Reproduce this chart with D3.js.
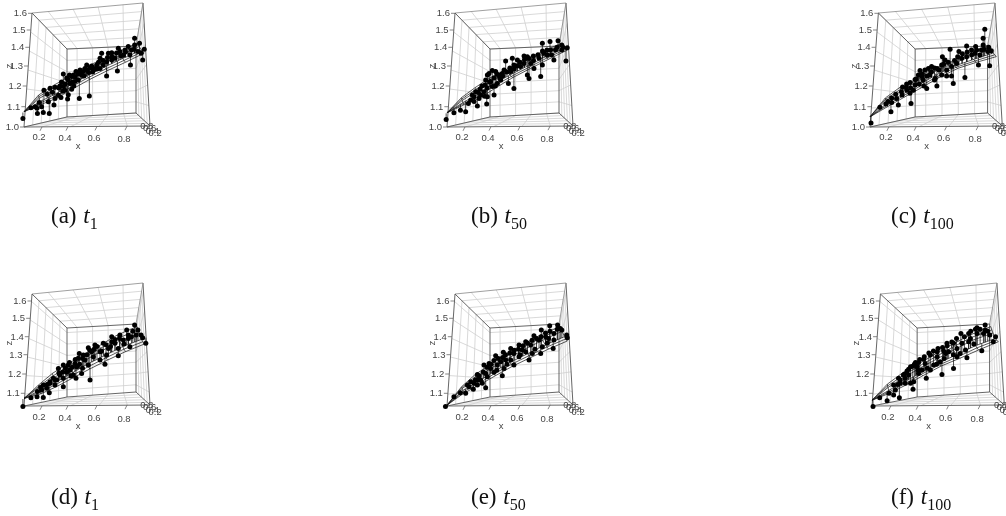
<!DOCTYPE html>
<html>
<head>
<meta charset="utf-8">
<style>
  body { margin: 0; background: #fff; }
  svg { filter: blur(0.35px); }
  text { font-family: "Liberation Sans", Arial, sans-serif; font-size: 9.5px; fill: #444; }
  .caption, .caption tspan { font-family: "Liberation Serif", serif; font-size: 23px; fill: #111; }
  .caption tspan.sub { font-size: 16px; }
</style>
<script src="https://cdnjs.cloudflare.com/ajax/libs/d3/7.8.5/d3.min.js"></script>
</head>
<body>
<div id="chart"></div>
<script>
// tick labels
var xTicks = [0.2, 0.4, 0.6, 0.8],
    yTicks = [0.8, 0.6, 0.4, 0.2],
    zTicksTop = [1.0, 1.1, 1.2, 1.3, 1.4, 1.5, 1.6],
    zTicksBottom = [1.1, 1.2, 1.3, 1.4, 1.5, 1.6];

// fitted surface, x of the grid nodes for each of the six wires
var surfaceX = [
  [.07, .19, .31, .43, .55, .67, .79, .92],
  [.07, .187, .305, .42, .54, .66, .78, .91],
  [.07, .185, .30, .415, .53, .65, .77, .90],
  [.07, .18, .29, .40, .515, .63, .75, .885],
  [.07, .177, .285, .395, .507, .622, .742, .877],
  [.07, .175, .28, .39, .50, .615, .735, .87]
];

// fitted surface z, read for each panel
var surfaceA = [
  [1.075, 1.11, 1.14, 1.185, 1.233, 1.277, 1.32, 1.369],
  [1.075, 1.118, 1.15, 1.195, 1.242, 1.286, 1.33, 1.377],
  [1.075, 1.125, 1.16, 1.205, 1.25, 1.295, 1.34, 1.385],
  [1.075, 1.14, 1.18, 1.225, 1.27, 1.31, 1.355, 1.405],
  [1.075, 1.148, 1.19, 1.232, 1.279, 1.319, 1.364, 1.414],
  [1.075, 1.156, 1.2, 1.24, 1.288, 1.328, 1.373, 1.423]
];
var surfaceB = [
  [1.07, 1.108, 1.14, 1.19, 1.242, 1.288, 1.336, 1.385],
  [1.07, 1.114, 1.15, 1.2, 1.248, 1.294, 1.343, 1.39],
  [1.07, 1.12, 1.16, 1.21, 1.255, 1.3, 1.35, 1.395],
  [1.07, 1.13, 1.175, 1.225, 1.27, 1.315, 1.36, 1.41],
  [1.07, 1.137, 1.184, 1.232, 1.275, 1.321, 1.365, 1.415],
  [1.07, 1.144, 1.193, 1.24, 1.28, 1.328, 1.371, 1.42]
];
var surfaceC = [
  [1.05, 1.10, 1.145, 1.19, 1.242, 1.288, 1.32, 1.35],
  [1.05, 1.107, 1.152, 1.197, 1.248, 1.294, 1.327, 1.36],
  [1.05, 1.115, 1.16, 1.205, 1.255, 1.30, 1.335, 1.37],
  [1.05, 1.13, 1.175, 1.22, 1.27, 1.31, 1.35, 1.39],
  [1.05, 1.136, 1.184, 1.225, 1.276, 1.314, 1.359, 1.40],
  [1.05, 1.142, 1.193, 1.23, 1.283, 1.318, 1.368, 1.413]
];
var surfaceD = [
  [1.074, 1.097, 1.134, 1.178, 1.226, 1.272, 1.317, 1.359],
  [1.074, 1.106, 1.145, 1.189, 1.238, 1.284, 1.331, 1.372],
  [1.074, 1.115, 1.155, 1.2, 1.25, 1.295, 1.345, 1.385],
  [1.074, 1.13, 1.18, 1.225, 1.27, 1.32, 1.375, 1.42],
  [1.074, 1.136, 1.19, 1.237, 1.282, 1.335, 1.392, 1.437],
  [1.074, 1.143, 1.203, 1.25, 1.295, 1.35, 1.409, 1.455]
];
var surfaceE = [
  [1.04, 1.10, 1.143, 1.191, 1.241, 1.285, 1.331, 1.376],
  [1.04, 1.107, 1.151, 1.2, 1.25, 1.295, 1.343, 1.388],
  [1.04, 1.115, 1.16, 1.21, 1.26, 1.305, 1.355, 1.40],
  [1.04, 1.125, 1.18, 1.23, 1.28, 1.33, 1.38, 1.43],
  [1.04, 1.13, 1.189, 1.238, 1.291, 1.342, 1.395, 1.442],
  [1.04, 1.134, 1.198, 1.247, 1.302, 1.354, 1.409, 1.455]
];
var surfaceF = [
  [1.065, 1.10, 1.143, 1.191, 1.241, 1.281, 1.326, 1.372],
  [1.065, 1.107, 1.151, 1.198, 1.248, 1.29, 1.338, 1.381],
  [1.065, 1.115, 1.16, 1.205, 1.255, 1.30, 1.35, 1.39],
  [1.065, 1.13, 1.18, 1.225, 1.275, 1.325, 1.38, 1.42],
  [1.065, 1.138, 1.19, 1.236, 1.286, 1.34, 1.395, 1.437],
  [1.065, 1.147, 1.203, 1.247, 1.298, 1.354, 1.409, 1.455]
];

// observed points [x, z]
var pointsA = [[.062,1.042],[.12,1.095],[.164,1.092],[.167,1.067],[.21,1.072],[.256,1.067],[.292,1.108],[.215,1.18],[.262,1.189],[.30,1.194],[.338,1.20],[.249,1.124],[.197,1.10],[.30,1.14],[.346,1.145],[.397,1.137],[.364,1.26],[.402,1.23],[.425,1.247],[.455,1.272],[.483,1.28],[.478,1.14],[.547,1.152],[.377,1.18],[.414,1.213],[.448,1.222],[.494,1.255],[.529,1.305],[.563,1.30],[.598,1.305],[.631,1.368],[.676,1.368],[.698,1.371],[.664,1.323],[.698,1.332],[.742,1.395],[.753,1.377],[.809,1.404],[.853,1.452],[.853,1.413],[.887,1.423],[.92,1.389],[.909,1.332],[.824,1.305],[.736,1.275],[.664,1.25],[.62,1.288],[.542,1.267],[.506,1.272],[.471,1.23],[.364,1.197],[.326,1.155],[.425,1.184],[.575,1.28],[.642,1.305],[.72,1.341],[.776,1.359],[.831,1.385],[.876,1.377],[.898,1.368],[.787,1.386],[.62,1.341],[.586,1.288],[.517,1.288],[.437,1.255],[.402,1.158],
  [.33,1.19],[.35,1.22],[.38,1.21],[.39,1.24],[.41,1.255],[.43,1.22],[.45,1.245],[.47,1.26],[.49,1.265],[.51,1.25],[.53,1.28],[.55,1.29],[.57,1.27],[.60,1.285],[.61,1.32],[.64,1.33],[.67,1.345],[.70,1.35],[.73,1.37],[.76,1.355],[.79,1.375],[.82,1.36],[.85,1.39],[.44,1.20],[.36,1.175],[.24,1.16],[.28,1.17],[.18,1.12],[.15,1.10]];
var pointsB = [[.064,1.037],[.12,1.07],[.167,1.083],[.205,1.075],[.226,1.116],[.295,1.103],[.367,1.113],[.269,1.148],[.315,1.184],[.354,1.205],[.385,1.263],[.409,1.277],[.432,1.272],[.372,1.255],[.397,1.222],[.455,1.255],[.49,1.28],[.501,1.327],[.547,1.341],[.582,1.332],[.627,1.354],[.649,1.35],[.689,1.354],[.749,1.423],[.80,1.433],[.856,1.438],[.882,1.413],[.92,1.398],[.911,1.327],[.827,1.332],[.749,1.305],[.738,1.247],[.66,1.238],[.649,1.255],[.558,1.188],[.467,1.23],[.421,1.156],[.32,1.156],[.244,1.132],[.282,1.172],[.346,1.172],[.372,1.148],[.536,1.272],[.604,1.297],[.671,1.314],[.727,1.341],[.782,1.359],[.838,1.385],[.882,1.385],[.804,1.385],[.76,1.368],[.558,1.305],[.444,1.213],[.409,1.197],[.359,1.23],[.478,1.263],[.627,1.314],[.693,1.288],[.52,1.213],[.308,1.14],[.256,1.156],
  [.30,1.17],[.33,1.20],[.37,1.19],[.39,1.22],[.42,1.24],[.44,1.26],[.46,1.24],[.48,1.25],[.51,1.27],[.53,1.29],[.56,1.285],[.58,1.30],[.60,1.32],[.63,1.335],[.66,1.34],[.69,1.33],[.72,1.36],[.75,1.38],[.78,1.385],[.81,1.36],[.85,1.40],[.89,1.40],[.43,1.20],[.35,1.15],[.27,1.125]];
var pointsC = [[.077,1.02],[.138,1.097],[.179,1.113],[.22,1.142],[.215,1.075],[.269,1.108],[.362,1.116],[.328,1.193],[.356,1.217],[.392,1.233],[.425,1.277],[.457,1.28],[.501,1.297],[.536,1.288],[.572,1.35],[.622,1.389],[.678,1.377],[.727,1.408],[.784,1.404],[.833,1.413],[.844,1.504],[.833,1.452],[.887,1.382],[.876,1.302],[.802,1.305],[.716,1.243],[.642,1.213],[.631,1.25],[.536,1.20],[.469,1.188],[.414,1.255],[.379,1.18],[.297,1.156],[.256,1.14],[.292,1.172],[.446,1.23],[.49,1.255],[.567,1.305],[.60,1.28],[.664,1.314],[.727,1.35],[.78,1.368],[.822,1.386],[.864,1.377],[.589,1.332],[.392,1.205],[.331,1.18],[.525,1.238],[.631,1.297],[.696,1.341],[.758,1.386],[.811,1.359],[.194,1.125],[.354,1.165],[.48,1.288],[.567,1.255],[.437,1.247],
  [.30,1.195],[.33,1.21],[.36,1.19],[.40,1.235],[.42,1.21],[.44,1.26],[.47,1.25],[.50,1.27],[.52,1.29],[.55,1.28],[.58,1.31],[.61,1.32],[.65,1.33],[.67,1.35],[.70,1.365],[.73,1.375],[.76,1.36],[.79,1.385],[.84,1.39],[.87,1.40],[.25,1.16],[.22,1.12],[.45,1.20],[.52,1.23],[.60,1.25]];
var pointsD = [[.062,1.034],[.12,1.078],[.164,1.083],[.21,1.079],[.167,1.109],[.21,1.143],[.262,1.16],[.256,1.103],[.313,1.169],[.364,1.247],[.402,1.247],[.448,1.255],[.478,1.307],[.54,1.339],[.586,1.354],[.642,1.363],[.698,1.40],[.753,1.409],[.798,1.436],[.853,1.464],[.876,1.436],[.898,1.409],[.931,1.363],[.909,1.394],[.82,1.344],[.742,1.295],[.653,1.25],[.552,1.169],[.494,1.203],[.455,1.178],[.364,1.134],[.30,1.143],[.262,1.152],[.338,1.195],[.414,1.221],[.46,1.238],[.517,1.272],[.575,1.29],[.62,1.317],[.676,1.335],[.72,1.363],[.776,1.381],[.831,1.40],[.864,1.409],[.809,1.409],[.287,1.178],[.326,1.229],[.39,1.209],[.506,1.298],[.563,1.317],[.698,1.372],[.742,1.335],[.437,1.195],[.236,1.126],[.197,1.117],[.62,1.272],[.54,1.247],[.364,1.178],[.471,1.281],[.664,1.298],
  [.30,1.17],[.33,1.205],[.36,1.21],[.38,1.23],[.41,1.26],[.43,1.235],[.45,1.275],[.48,1.25],[.50,1.28],[.53,1.30],[.55,1.325],[.58,1.33],[.60,1.345],[.63,1.32],[.66,1.355],[.69,1.345],[.72,1.385],[.75,1.39],[.78,1.36],[.81,1.39],[.84,1.43],[.24,1.145],[.19,1.13],[.42,1.19],[.50,1.23]];
var pointsE = [[.059,1.034],[.12,1.083],[.167,1.103],[.205,1.10],[.218,1.143],[.264,1.121],[.295,1.143],[.359,1.129],[.333,1.152],[.478,1.191],[.244,1.16],[.295,1.198],[.346,1.247],[.385,1.255],[.432,1.295],[.485,1.313],[.536,1.335],[.593,1.354],[.638,1.372],[.693,1.405],[.742,1.436],[.798,1.46],[.853,1.464],[.882,1.436],[.916,1.409],[.92,1.394],[.827,1.381],[.822,1.335],[.738,1.307],[.66,1.272],[.558,1.247],[.49,1.229],[.421,1.209],[.372,1.186],[.32,1.169],[.269,1.152],[.444,1.247],[.501,1.272],[.558,1.307],[.616,1.326],[.671,1.354],[.727,1.381],[.771,1.40],[.827,1.418],[.871,1.445],[.682,1.307],[.593,1.29],[.397,1.229],[.536,1.272],[.638,1.317],[.749,1.344],[.782,1.363],[.359,1.203],[.467,1.264],[.231,1.134],[.295,1.169],
  [.28,1.17],[.31,1.19],[.34,1.21],[.37,1.235],[.40,1.25],[.42,1.27],[.45,1.28],[.48,1.285],[.50,1.30],[.53,1.31],[.56,1.325],[.59,1.33],[.62,1.35],[.65,1.365],[.68,1.38],[.71,1.39],[.74,1.40],[.77,1.42],[.80,1.43],[.85,1.44],[.44,1.22],[.51,1.25],[.60,1.30],[.70,1.33],[.79,1.39]];
var pointsF = [[.077,1.034],[.123,1.078],[.174,1.062],[.187,1.10],[.22,1.091],[.262,1.078],[.22,1.143],[.269,1.152],[.305,1.152],[.362,1.121],[.256,1.178],[.292,1.195],[.318,1.216],[.344,1.238],[.372,1.25],[.402,1.26],[.437,1.278],[.48,1.298],[.525,1.317],[.567,1.32],[.589,1.363],[.631,1.363],[.678,1.418],[.727,1.418],[.78,1.449],[.833,1.464],[.833,1.436],[.864,1.409],[.902,1.40],[.887,1.372],[.811,1.322],[.716,1.284],[.631,1.229],[.556,1.198],[.501,1.247],[.453,1.178],[.402,1.203],[.344,1.152],[.269,1.169],[.331,1.195],[.392,1.238],[.446,1.255],[.525,1.29],[.58,1.307],[.653,1.335],[.684,1.363],[.738,1.39],[.78,1.418],[.822,1.418],[.707,1.326],[.653,1.29],[.60,1.317],[.48,1.221],[.425,1.221],[.367,1.16],[.233,1.117],[.305,1.178],[.727,1.372],[.673,1.307],[.545,1.264],
  [.25,1.145],[.30,1.20],[.33,1.225],[.36,1.24],[.38,1.26],[.41,1.275],[.44,1.29],[.47,1.31],[.50,1.32],[.53,1.335],[.56,1.34],[.59,1.35],[.62,1.37],[.65,1.39],[.70,1.40],[.74,1.43],[.77,1.44],[.80,1.44],[.85,1.43],[.40,1.22],[.46,1.23],[.52,1.25],[.57,1.28],[.63,1.30],[.76,1.36]];

var width = 1006,
    height = 516;

// box corners on the page for the two rows, x given for the first column
var rowTop = {
  flb: [24, 127], frb: [150, 126], flt: [32, 13], frt: [143, 3],
  blb: [67, 117], brb: [136, 113], blt: [67, 49], brt: [136, 46],
  zDomain: [1.0, 1.1, 1.2, 1.3, 1.4, 1.5, 1.6],
  zRange: [127, 106.7, 86, 66, 47.3, 30, 13.3],
  zExtent: [1.0, 1.6],
  zTicks: zTicksTop, xLabelY: 140, xTitleY: 149, zTitleY: 66, captionY: 223
};
var rowBottom = {
  flb: [24, 406], frb: [150, 405], flt: [32, 294], frt: [143, 283],
  blb: [67, 397], brb: [136, 392], blt: [67, 328], brt: [136, 324],
  zDomain: [1.036, 1.1, 1.2, 1.3, 1.4, 1.5, 1.6],
  zRange: [406, 393.3, 374, 354.7, 336.7, 318.3, 301],
  zExtent: [1.036, 1.64],
  zTicks: zTicksBottom, xLabelY: 420, xTitleY: 429, zTitleY: 343, captionY: 504
};

var panels = [
  {row: rowTop,    ox: 24,  sx: 1,    points: pointsA, surface: surfaceA, tag: "(a) ", sub: "1",   capX: 51},
  {row: rowTop,    ox: 447, sx: 1,    points: pointsB, surface: surfaceB, tag: "(b) ", sub: "50",  capX: 471},
  {row: rowTop,    ox: 870, sx: 1.05, points: pointsC, surface: surfaceC, tag: "(c) ", sub: "100", capX: 891},
  {row: rowBottom, ox: 24,  sx: 1,    points: pointsD, surface: surfaceD, tag: "(d) ", sub: "1",   capX: 51},
  {row: rowBottom, ox: 447, sx: 1,    points: pointsE, surface: surfaceE, tag: "(e) ", sub: "50",  capX: 471},
  {row: rowBottom, ox: 872, sx: 1.05, points: pointsF, surface: surfaceF, tag: "(f) ", sub: "100", capX: 891}
];

var svg = d3.select("#chart").append("svg")
    .attr("width", width)
    .attr("height", height)
    .style("display", "block");

var line = d3.line();

panels.forEach(drawPanel);

function drawPanel(p) {
  var row = p.row;
  var g = svg.append("g");

  function px(v) { return p.ox + (v - 24) * p.sx; }

  var xScale = d3.scaleLinear()
      .domain([0.07, 0.2, 0.4, 0.6, 0.8, 0.96])
      .range([24, 42, 68, 97, 127, 150].map(px));
  var zScale = d3.scaleLinear()
      .domain(row.zDomain)
      .range(row.zRange);
  var uScale = d3.scaleLinear().domain([0.07, 0.96]).range([0, 1]);
  var wScale = d3.scaleLinear().domain(row.zExtent).range([0, 1]);

  // position inside the box: u along x, v into the page, w upward
  function project(u, v, w) {
    function mix(a, b, t) { return a + (b - a) * t; }
    function corner(i) {
      var bottom = mix(mix(row.flb[i], row.frb[i], u), mix(row.blb[i], row.brb[i], u), v);
      var top = mix(mix(row.flt[i], row.frt[i], u), mix(row.blt[i], row.brt[i], u), v);
      return mix(bottom, top, w);
    }
    return [px(corner(0)), corner(1)];
  }

  function seg(a, b, color, sw) {
    g.append("path")
        .attr("d", line([project(a[0], a[1], a[2]), project(b[0], b[1], b[2])]))
        .attr("fill", "none")
        .attr("stroke", color)
        .attr("stroke-width", sw);
  }

  var grey = "#cfcfcf", dark = "#555";

  xTicks.forEach(function(d) {
    var u = uScale(d);
    seg([u, 1, 0], [u, 1, 1], grey, 0.8);   // back wall
    seg([u, 0, 0], [u, 1, 0], grey, 0.8);   // floor
    seg([u, 0, 1], [u, 1, 1], grey, 0.8);   // ceiling
  });
  yTicks.forEach(function(d) {
    seg([0, d, 0], [0, d, 1], grey, 0.8);   // left wall
    seg([1, d, 0], [1, d, 1], grey, 0.8);   // right wall
    seg([0, d, 0], [1, d, 0], grey, 0.8);
    seg([0, d, 1], [1, d, 1], grey, 0.8);
  });
  row.zTicks.forEach(function(d) {
    var w = wScale(d);
    seg([0, 1, w], [1, 1, w], grey, 0.8);
    seg([0, 0, w], [0, 1, w], grey, 0.8);
    seg([1, 0, w], [1, 1, w], grey, 0.8);
  });

  // box edges
  seg([0, 0, 0], [1, 0, 0], dark, 0.9);
  seg([0, 0, 0], [0, 0, 1], dark, 0.9);
  seg([1, 0, 0], [1, 0, 1], dark, 0.9);
  seg([0, 0, 1], [1, 0, 1], "#888", 0.8);
  seg([0, 0, 0], [0, 1, 0], dark, 0.9);
  seg([1, 0, 0], [1, 1, 0], dark, 0.9);
  seg([0, 0, 1], [0, 1, 1], dark, 0.9);
  seg([1, 0, 1], [1, 1, 1], "#888", 0.8);
  seg([0, 1, 0], [1, 1, 0], dark, 0.9);
  seg([0, 1, 1], [1, 1, 1], dark, 0.9);
  seg([0, 1, 0], [0, 1, 1], dark, 0.9);
  seg([1, 1, 0], [1, 1, 1], dark, 0.9);

  // z axis on the slanted front-left edge
  var edge = d3.scaleLinear().domain(row.zExtent).range([row.flb[0], row.flt[0]]);
  row.zTicks.forEach(function(d) {
    var ex = px(edge(d)), ey = zScale(d);
    g.append("line")
        .attr("x1", ex - 4).attr("x2", ex)
        .attr("y1", ey).attr("y2", ey)
        .attr("stroke", dark).attr("stroke-width", 0.7);
    g.append("text")
        .attr("x", ex - 5)
        .attr("y", ey + 3)
        .attr("text-anchor", "end")
        .text(d3.format(".1f")(d));
  });
  g.append("text")
      .attr("transform", "translate(" + px(12) + "," + row.zTitleY + ") rotate(-90)")
      .attr("text-anchor", "middle")
      .text("z");

  // x axis on the front floor edge
  xTicks.forEach(function(d) {
    var tip = project(uScale(d), 0, 0);
    var sx = xScale(d);
    g.append("line")
        .attr("x1", sx).attr("x2", sx - 2)
        .attr("y1", tip[1]).attr("y2", tip[1] + 4)
        .attr("stroke", dark).attr("stroke-width", 0.7);
    g.append("text")
        .attr("x", sx - 3)
        .attr("y", row.xLabelY + uScale(d) * 2)
        .attr("text-anchor", "middle")
        .text(d3.format(".1f")(d));
  });
  g.append("text")
      .attr("x", px(78))
      .attr("y", row.xTitleY)
      .attr("text-anchor", "middle")
      .text("x");

  // y axis squeezed into the lower right corner
  yTicks.forEach(function(d) {
    var c = project(1, d, 0);
    g.append("text")
        .attr("x", c[0] + 8)
        .attr("y", c[1] + 13)
        .attr("text-anchor", "middle")
        .text(d3.format(".1f")(d));
  });

  // drop lines from the points to the surface
  var midFit = d3.scaleLinear().domain(surfaceX[2]).range(p.surface[2]);
  g.append("g").selectAll("line")
      .data(p.points).enter()
      .append("line")
        .attr("x1", function(d) { return xScale(d[0]); })
        .attr("x2", function(d) { return xScale(d[0]); })
        .attr("y1", function(d) { return zScale(d[1]); })
        .attr("y2", function(d) { return zScale(midFit(d[0])); })
        .attr("stroke", "#000")
        .attr("stroke-width", 0.7);

  // surface wires
  var wireColor = "#111";
  var rows = p.surface.map(function(zs, r) {
    return zs.map(function(z, c) { return [xScale(surfaceX[r][c]), zScale(z)]; });
  });
  rows.forEach(function(nodes) {
    g.append("path")
        .attr("d", line(nodes))
        .attr("fill", "none")
        .attr("stroke", wireColor)
        .attr("stroke-width", 0.7);
  });
  d3.range(rows[0].length).forEach(function(c) {
    g.append("path")
        .attr("d", line(rows.map(function(nodes) { return nodes[c]; })))
        .attr("fill", "none")
        .attr("stroke", wireColor)
        .attr("stroke-width", 0.7);
  });

  g.append("g").selectAll("circle")
      .data(p.points).enter()
      .append("circle")
        .attr("cx", function(d) { return xScale(d[0]); })
        .attr("cy", function(d) { return zScale(d[1]); })
        .attr("r", 2.5)
        .attr("fill", "#000");

  // caption below the panel
  var cap = g.append("text")
      .attr("class", "caption")
      .attr("x", p.capX)
      .attr("y", row.captionY);
  cap.append("tspan").text(p.tag);
  cap.append("tspan").attr("font-style", "italic").attr("dx", 1).text("t");
  cap.append("tspan").attr("class", "sub").attr("dy", 6).text(p.sub);
}
</script>
</body>
</html>
